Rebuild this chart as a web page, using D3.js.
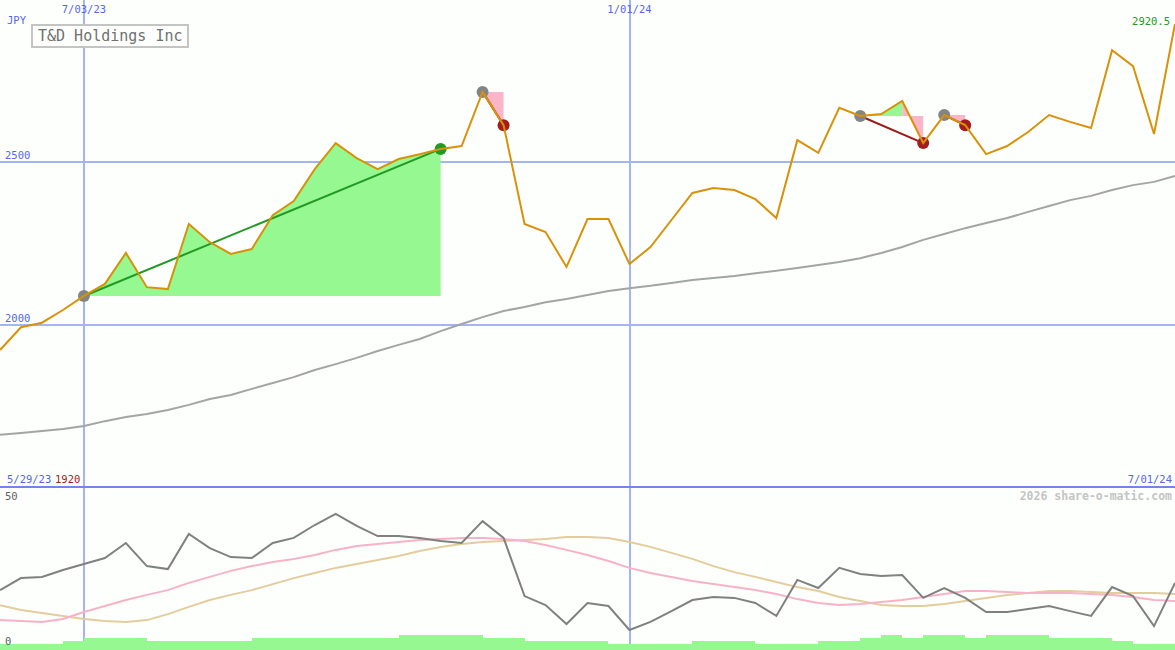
<!DOCTYPE html>
<html>
<head>
<meta charset="utf-8">
<script src="https://cdn.jsdelivr.net/npm/d3@7"></script>
<style>
html,body{margin:0;padding:0;background:#fdfffd;}
svg{display:block;}
text{font-family:"DejaVu Sans Mono",monospace;}
</style>
</head>
<body>
<svg id="chart" width="1175" height="650"></svg>
<script>
// ---------- DATA ----------
const title = "T&D Holdings Inc";
const currency = "JPY";
const startLabel = "5/29/23";
const endLabel = "7/01/24";
const lowLabel = "1920";
const lastLabel = "2920.5";
const credit = "2026 share-o-matic.com";

const dateTickIndex = [4, 30];
const dateTickLabels = ["7/03/23", "1/01/24"];
const priceTicks = [2000, 2500];
const oscTicks = [0, 50];

// weekly closing price (JPY)
const price = [1920,1990,2004,2043,2086,2123,2218,2113,2107,2307,
               2251,2215,2230,2334,2377,2475,2555,2509,2475,2506,
               2521,2537,2546,2712,2610,2307,2282,2175,2322,2322,
               2184,2236,2319,2402,2417,2411,2383,2325,2564,2525,
               2663,2638,2644,2684,2555,2641,2610,2521,2546,2589,
               2641,2620,2601,2840,2791,2583,2920.5];
// long moving average
const movingAvg = [1660,1666,1672,1678,1687,1702,1715,1724,1736,1752,
                   1770,1782,1801,1819,1837,1859,1877,1896,1917,1936,
                   1954,1978,2000,2021,2040,2052,2067,2077,2089,2101,
                   2110,2117,2126,2135,2141,2147,2156,2163,2172,2181,
                   2190,2202,2218,2236,2258,2276,2294,2310,2325,2344,
                   2362,2380,2393,2411,2426,2436,2454];
// oscillator (dark grey)
const osc = [19.3,23.3,23.7,26,28,30,35,27.3,26.3,38,
             33.3,30.3,30,35,36.7,41,44.7,40.7,37.3,37.3,
             36.7,35.7,35,42.3,36.7,17.3,14.3,8,15,14,
             6,8.7,12.3,16,17,16.7,15,10.7,22.7,20,
             26.7,24.7,24,24.3,16.7,20,16.7,12,12,13,
             14,12.3,10.7,20.3,17.3,7.3,21.7];
// oscillator average (pink)
const oscFast = [9.3,9,8.7,9.7,12,14,16,17.7,19.3,21.7,
                 23.7,25.7,27.3,28.7,29.7,31,32.7,34,34.7,35.3,
                 36,36.3,36.7,36.7,36.3,35.7,34.3,32.7,31,29,
                 26.7,25,23.7,22.3,21.3,20.3,19.3,18,16.3,15,
                 14.3,14.7,15.3,16,17,18,19,19,18.7,18.3,
                 18.3,18.3,18,17.7,17,16,15.7];
// oscillator slow average (tan)
const oscSlow = [14.3,12.7,11.7,10.7,9.7,9,8.7,9.3,11.3,13.7,
                 16,17.7,19.3,21.3,23.3,25,26.7,28,29.3,30.7,
                 32.3,33.7,34.7,35.3,35.7,36,36.3,37,37,36.7,
                 35.3,33.7,31.7,29.7,27.3,25.3,23.7,22,20.3,19,
                 17,15.7,14.3,14,14,14.7,15.7,16.7,17.7,18.3,
                 19,19,18.7,18.3,18.3,18.3,18];
// weekly volume (relative units)
const volume = [2,2,2,3,4,4,4,3,3,3,
                3,3,4,4,4,4,4,4,4,5,
                5,5,5,4,4,3,3,3,3,2,
                2,2,2,3,3,3,2,2,2,3,
                3,4,5,4,5,5,4,5,5,5,
                4,4,4,3,2,2];
// trade annotations: start index, end index
const tradeStart = [4, 23, 41, 45];
const tradeEnd   = [21, 24, 44, 46];

// ---------- SCALES ----------
const W = 1175, H = 650;
const svg = d3.select("#chart");
const x = d3.scaleLinear().domain([0, price.length - 1]).range([0, W]);
const y = d3.scaleLinear().domain([2000, 2500]).range([324, 161]);
const yo = d3.scaleLinear().domain([0, 50]).range([648, 498]);
const yv = d3.scaleLinear().domain([0, 5]).range([650, 635]);

const gridCol = "#a4b4f6";
const blue = "#5566ee";

svg.append("rect").attr("width", W).attr("height", H).attr("fill", "#fdfffd");

// horizontal price gridlines via axis
const hAxis = svg.append("g").call(
  d3.axisRight(y).tickValues(priceTicks).tickSize(W).tickFormat(""));
hAxis.select(".domain").remove();
hAxis.selectAll("line").attr("stroke", gridCol).attr("stroke-width", 2).attr("shape-rendering", "crispEdges");

// vertical date gridlines via axis
const vAxis = svg.append("g").call(
  d3.axisBottom(x).tickValues(dateTickIndex).tickSize(H).tickFormat(""));
vAxis.select(".domain").remove();
vAxis.selectAll("line").attr("stroke", gridCol).attr("stroke-width", 2).attr("shape-rendering", "crispEdges");

// panel separator
svg.append("line").attr("x1", 0).attr("x2", W).attr("y1", 487).attr("y2", 487)
  .attr("stroke", "#7484ee").attr("stroke-width", 2).attr("shape-rendering", "crispEdges");

// ---------- PRICE PANEL ----------
const line = d3.line().x((d, i) => x(i)).y(d => y(d));
svg.append("path").datum(movingAvg).attr("d", line)
  .attr("fill", "none").attr("stroke", "#a4a4a4").attr("stroke-width", 2);

// trade fills: one path per colour per trade (no seams)
tradeStart.forEach((s, k) => {
  const e = tradeEnd[k];
  const base = price[s];
  const parts = {up: "", down: ""};
  for (let i = s; i < e; i++) {
    const pts = [[x(i), y(base)], [x(i), y(price[i])], [x(i + 1), y(price[i + 1])], [x(i + 1), y(base)]];
    const key = price[i + 1] >= base ? "up" : "down";
    parts[key] += d3.line()(pts) + "Z";
  }
  if (parts.up) svg.append("path").attr("d", parts.up).attr("fill", "#96f890").attr("fill-rule", "nonzero");
  if (parts.down) svg.append("path").attr("d", parts.down).attr("fill", "#f9b6c8").attr("fill-rule", "nonzero");
});
// trade connecting lines
tradeStart.forEach((s, k) => {
  const e = tradeEnd[k];
  svg.append("line")
    .attr("x1", x(s)).attr("y1", y(price[s])).attr("x2", x(e)).attr("y2", y(price[e]))
    .attr("stroke", price[e] >= price[s] ? "#229922" : "#9c1c1c").attr("stroke-width", 2);
});
// trade dots
tradeStart.forEach((s, k) => {
  const e = tradeEnd[k];
  svg.append("circle").attr("cx", x(s)).attr("cy", y(price[s])).attr("r", 6).attr("fill", "#848484");
  svg.append("circle").attr("cx", x(e)).attr("cy", y(price[e])).attr("r", 6)
    .attr("fill", price[e] >= price[s] ? "#229922" : "#a41c1c");
});

svg.append("path").datum(price).attr("d", line)
  .attr("fill", "none").attr("stroke", "#d8920a").attr("stroke-width", 2);

// ---------- LOWER PANEL ----------
const volArea = d3.area().curve(d3.curveStepAfter)
  .x((d, i) => x(i)).y0(yv(0)).y1(d => yv(d));
svg.append("path").datum(volume.concat([volume[volume.length - 1]])).attr("d", volArea)
  .attr("fill", "#96f890").attr("shape-rendering", "crispEdges");

const oline = d3.line().x((d, i) => x(i)).y(d => yo(d));
svg.append("path").datum(oscSlow).attr("d", oline)
  .attr("fill", "none").attr("stroke", "#e4cc9c").attr("stroke-width", 2);
svg.append("path").datum(oscFast).attr("d", oline)
  .attr("fill", "none").attr("stroke", "#f8b2c8").attr("stroke-width", 2);
svg.append("path").datum(osc).attr("d", oline)
  .attr("fill", "none").attr("stroke", "#808080").attr("stroke-width", 2);

// ---------- TEXT ----------
const fs = 10.5;
svg.selectAll("text.dt").data(dateTickIndex).enter().append("text")
  .attr("x", d => x(d)).attr("y", 13).attr("text-anchor", "middle")
  .attr("font-size", fs).attr("fill", blue).text((d, i) => dateTickLabels[i]);

svg.append("text").attr("x", 7).attr("y", 24).attr("font-size", fs).attr("fill", blue).text(currency);

svg.selectAll("text.pt").data(priceTicks).enter().append("text")
  .attr("x", 5).attr("y", d => y(d) - 2).attr("font-size", fs).attr("fill", blue).text(d => d);

svg.append("text").attr("x", 1170).attr("y", 25).attr("text-anchor", "end")
  .attr("font-size", fs).attr("fill", "#22991e").text(lastLabel);

svg.append("rect").attr("x", 32).attr("y", 25).attr("width", 156).attr("height", 22)
  .attr("fill", "#fdfffd").attr("stroke", "#c4c4c4").attr("stroke-width", 2);
svg.append("text").attr("x", 38).attr("y", 41).attr("font-size", 15).attr("fill", "#707070").text(title);

svg.append("text").attr("x", 7).attr("y", 483).attr("font-size", fs).attr("fill", blue).text(startLabel);
svg.append("text").attr("x", 55).attr("y", 483).attr("font-size", fs).attr("fill", "#a81818").text(lowLabel);
svg.append("text").attr("x", 1172).attr("y", 483).attr("text-anchor", "end")
  .attr("font-size", fs).attr("fill", blue).text(endLabel);

svg.append("text").attr("x", 1172).attr("y", 500).attr("text-anchor", "end")
  .attr("font-size", 11.5).attr("font-weight", "bold").attr("fill", "#c4c4c4").text(credit);

svg.selectAll("text.ot").data(oscTicks).enter().append("text")
  .attr("x", 5).attr("y", d => d === 0 ? 645 : 500).attr("font-size", fs).attr("fill", "#606060").text(d => d);
</script>
</body>
</html>
